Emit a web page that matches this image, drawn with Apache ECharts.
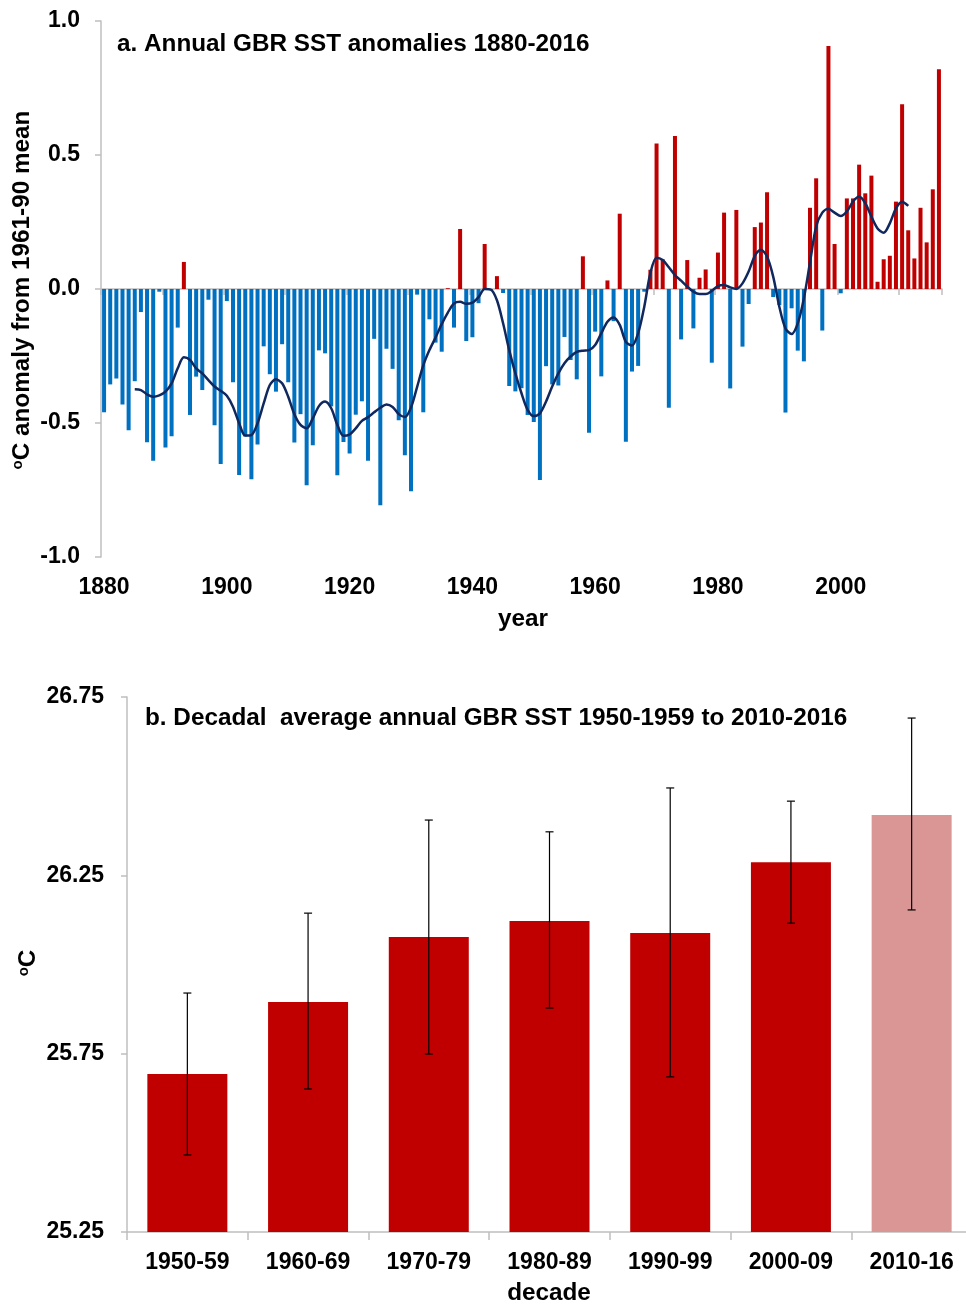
<!DOCTYPE html>
<html><head><meta charset="utf-8">
<script src="https://cdn.jsdelivr.net/npm/echarts@6/dist/echarts.min.js"></script>
<style>html,body{margin:0;padding:0;background:#fff}#c{width:966px;height:1307px}</style>
</head><body><div id="c"></div>
<script>
// ---------- Panel a: annual anomalies ----------
const years = [
'1880','1881','1882','1883','1884','1885','1886','1887','1888','1889',
'1890','1891','1892','1893','1894','1895','1896','1897','1898','1899',
'1900','1901','1902','1903','1904','1905','1906','1907','1908','1909',
'1910','1911','1912','1913','1914','1915','1916','1917','1918','1919',
'1920','1921','1922','1923','1924','1925','1926','1927','1928','1929',
'1930','1931','1932','1933','1934','1935','1936','1937','1938','1939',
'1940','1941','1942','1943','1944','1945','1946','1947','1948','1949',
'1950','1951','1952','1953','1954','1955','1956','1957','1958','1959',
'1960','1961','1962','1963','1964','1965','1966','1967','1968','1969',
'1970','1971','1972','1973','1974','1975','1976','1977','1978','1979',
'1980','1981','1982','1983','1984','1985','1986','1987','1988','1989',
'1990','1991','1992','1993','1994','1995','1996','1997','1998','1999',
'2000','2001','2002','2003','2004','2005','2006','2007','2008','2009',
'2010','2011','2012','2013','2014','2015','2016'];

const anomalies = [
-0.46,-0.356,-0.334,-0.431,-0.527,-0.344,-0.086,-0.572,-0.641,-0.01,
-0.591,-0.549,-0.144,0.101,-0.47,-0.327,-0.377,-0.04,-0.508,-0.653,
-0.045,-0.348,-0.694,-0.55,-0.71,-0.58,-0.214,-0.318,-0.383,-0.206,
-0.348,-0.573,-0.467,-0.732,-0.583,-0.229,-0.24,-0.438,-0.695,-0.571,
-0.614,-0.469,-0.419,-0.641,-0.186,-0.807,-0.223,-0.298,-0.49,-0.62,
-0.755,-0.021,-0.46,-0.113,-0.2,-0.234,0.003,-0.144,0.224,-0.194,
-0.18,-0.053,0.168,-0.005,0.048,-0.015,-0.362,-0.382,-0.37,-0.47,
-0.496,-0.713,-0.288,-0.356,-0.36,-0.179,-0.265,-0.337,0.122,-0.536,
-0.159,-0.326,0.032,-0.12,0.281,-0.57,-0.308,-0.287,-0.01,0.072,
0.543,0.111,-0.443,0.571,-0.188,0.108,-0.147,0.042,0.073,-0.275,
0.136,0.285,-0.371,0.295,-0.215,-0.056,0.231,0.248,0.361,-0.03,
-0.06,-0.461,-0.072,-0.23,-0.27,0.303,0.413,-0.155,0.907,0.168,
-0.016,0.338,0.338,0.464,0.357,0.423,0.027,0.111,0.124,0.326,
0.689,0.219,0.114,0.303,0.174,0.372,0.82];

// smoothed curve for 1885..2011
const smoothYears = [
'1885','1886','1887','1888','1889','1890','1891','1892','1893','1894',
'1895','1896','1897','1898','1899','1900','1901','1902','1903','1904',
'1905','1906','1907','1908','1909','1910','1911','1912','1913','1914',
'1915','1916','1917','1918','1919','1920','1921','1922','1923','1924',
'1925','1926','1927','1928','1929','1930','1931','1932','1933','1934',
'1935','1936','1937','1938','1939','1940','1941','1942','1943','1944',
'1945','1946','1947','1948','1949','1950','1951','1952','1953','1954',
'1955','1956','1957','1958','1959','1960','1961','1962','1963','1964',
'1965','1966','1967','1968','1969','1970','1971','1972','1973','1974',
'1975','1976','1977','1978','1979','1980','1981','1982','1983','1984',
'1985','1986','1987','1988','1989','1990','1991','1992','1993','1994',
'1995','1996','1997','1998','1999','2000','2001','2002','2003','2004',
'2005','2006','2007','2008','2009','2010','2011'];
const smoothValues = [
-0.374,-0.377,-0.393,-0.402,-0.397,-0.383,-0.352,-0.296,-0.255,-0.265,
-0.296,-0.315,-0.34,-0.364,-0.38,-0.398,-0.439,-0.501,-0.547,-0.545,
-0.501,-0.427,-0.358,-0.337,-0.352,-0.402,-0.467,-0.507,-0.52,-0.483,
-0.437,-0.42,-0.445,-0.507,-0.548,-0.543,-0.52,-0.492,-0.478,-0.46,
-0.443,-0.431,-0.44,-0.467,-0.478,-0.442,-0.365,-0.285,-0.228,-0.181,
-0.131,-0.088,-0.054,-0.048,-0.055,-0.051,-0.03,0.0,-0.002,-0.042,
-0.128,-0.228,-0.315,-0.389,-0.451,-0.474,-0.464,-0.42,-0.364,-0.315,
-0.277,-0.252,-0.235,-0.23,-0.228,-0.209,-0.165,-0.122,-0.106,-0.134,
-0.197,-0.211,-0.165,-0.066,0.06,0.117,0.108,0.081,0.052,0.031,
0.009,-0.01,-0.019,-0.019,-0.007,0.011,0.015,0.006,0.0,0.021,
0.065,0.123,0.146,0.121,0.046,-0.066,-0.147,-0.168,-0.128,-0.035,
0.1,0.233,0.285,0.299,0.285,0.272,0.289,0.326,0.345,0.32,
0.27,0.226,0.21,0.245,0.301,0.326,0.31];

// ---------- Panel b: decadal averages ----------
const decades = ['1950-59','1960-69','1970-79','1980-89','1990-99','2000-09','2010-16'];
const decadeMeans = [25.693, 25.895, 26.077, 26.122, 26.088, 26.287, 26.419];
const errLow  = [25.466, 25.651, 25.749, 25.878, 25.685, 26.116, 26.153];
const errHigh = [25.920, 26.144, 26.405, 26.372, 26.495, 26.458, 26.691];

const FONT = '"Liberation Sans", Arial, Helvetica, sans-serif';
const AXIS_GRAY = '#BFBFBF';
const POS = '#C00000', NEG = '#0070C0', LINE = '#10285E';
const TITLE_FONT = 'bold 24.3px ' + FONT;

const chart = echarts.init(document.getElementById('c'), null, {renderer:'canvas'});

const lbl = {fontFamily: FONT, fontWeight: 'bold', fontSize: 23, color: '#000'};

const option = {
  backgroundColor: '#fff',
  animation: false,
  grid: [
    {left: 101, top: 21, width: 841, height: 536, outerBoundsMode: 'none', containLabel: false},
    {left: 127, top: 697, width: 845, height: 535, outerBoundsMode: 'none', containLabel: false}
  ],
  xAxis: [
    {type: 'category', gridIndex: 0, data: years, boundaryGap: true,
     axisLine: {show: false, onZero: false}, axisTick: {show: false},
     axisLabel: Object.assign({interval: 19, margin: 19}, lbl)},
    {type: 'category', gridIndex: 0, data: years, boundaryGap: true, position: 'bottom',
     axisLine: {show: true, onZero: true, onZeroAxisIndex: 0, lineStyle: {color: AXIS_GRAY, width: 1.5}},
     axisTick: {show: true, interval: 9, length: 6, lineStyle: {color: AXIS_GRAY, width: 1.5}},
     axisLabel: {show: false}},
    {type: 'category', gridIndex: 1, data: decades, boundaryGap: true,
     axisLine: {show: true, onZero: false, lineStyle: {color: AXIS_GRAY, width: 1.5}},
     axisTick: {show: true, length: 8, lineStyle: {color: AXIS_GRAY, width: 1.5}},
     axisLabel: Object.assign({margin: 19}, lbl)}
  ],
  yAxis: [
    {type: 'value', gridIndex: 0, min: -1, max: 1, interval: 0.5,
     axisLine: {show: true, onZero: false, lineStyle: {color: AXIS_GRAY, width: 1.5}},
     axisTick: {show: true, length: 6, lineStyle: {color: AXIS_GRAY, width: 1.5}},
     splitLine: {show: false},
     axisLabel: Object.assign({margin: 21, formatter: v => v.toFixed(1)}, lbl)},
    {type: 'value', gridIndex: 1, min: 25.25, max: 26.75, interval: 0.5,
     axisLine: {show: true, onZero: false, lineStyle: {color: AXIS_GRAY, width: 1.5}},
     axisTick: {show: true, length: 6, lineStyle: {color: AXIS_GRAY, width: 1.5}},
     splitLine: {show: false},
     axisLabel: Object.assign({margin: 23, formatter: v => v.toFixed(2)}, lbl)}
  ],
  series: [
    {type: 'bar', xAxisIndex: 0, yAxisIndex: 0, data: anomalies, barWidth: 4,
     itemStyle: {color: p => (p.value >= 0 ? POS : NEG)}},
    {type: 'line', xAxisIndex: 0, yAxisIndex: 0,
     data: smoothYears.map((y, i) => [y, smoothValues[i]]),
     smooth: 0.3, showSymbol: false, symbol: 'none',
     lineStyle: {color: LINE, width: 2.5}, z: 5},
    {type: 'bar', xAxisIndex: 2, yAxisIndex: 1, barWidth: 80,
     data: decadeMeans.map((v, i) => ({value: v, itemStyle: {color: i === decadeMeans.length - 1 ? '#D99694' : POS}}))},
    {type: 'custom', xAxisIndex: 2, yAxisIndex: 1, z: 6,
     data: decades.map((d, i) => [i, errLow[i], errHigh[i]]),
     renderItem: function (params, api) {
       const lo = api.coord([api.value(0), api.value(1)]);
       const hi = api.coord([api.value(0), api.value(2)]);
       const cap = 4;
       const st = {stroke: '#000', lineWidth: 1.2};
       return {type: 'group', children: [
         {type: 'line', shape: {x1: lo[0], y1: lo[1], x2: hi[0], y2: hi[1]}, style: st},
         {type: 'line', shape: {x1: hi[0] - cap, y1: hi[1], x2: hi[0] + cap, y2: hi[1]}, style: st},
         {type: 'line', shape: {x1: lo[0] - cap, y1: lo[1], x2: lo[0] + cap, y2: lo[1]}, style: st}
       ]};
     }}
  ],
  graphic: [
    {type: 'text', x: 117, y: 44, style: {text: 'a. Annual GBR SST anomalies 1880-2016',
      font: TITLE_FONT, fill: '#000', verticalAlign: 'middle', align: 'left'}},
    {type: 'text', x: 22, y: 290, rotation: Math.PI / 2, style: {
      text: '{s|o}C anomaly from 1961-90 mean', font: TITLE_FONT, fill: '#000',
      align: 'center', verticalAlign: 'middle',
      rich: {s: {font: 'bold 15px ' + FONT, verticalAlign: 'top', fill: '#000'}}}},
    {type: 'text', x: 523, y: 619, style: {text: 'year', font: TITLE_FONT, fill: '#000',
      align: 'center', verticalAlign: 'middle'}},
    {type: 'text', x: 145, y: 718, style: {text: 'b. Decadal  average annual GBR SST 1950-1959 to 2010-2016',
      font: TITLE_FONT, fill: '#000', verticalAlign: 'middle', align: 'left'}},
    {type: 'text', x: 28, y: 963, rotation: Math.PI / 2, style: {
      text: '{s|o}C', font: TITLE_FONT, fill: '#000', align: 'center', verticalAlign: 'middle',
      rich: {s: {font: 'bold 15px ' + FONT, verticalAlign: 'top', fill: '#000'}}}},
    {type: 'text', x: 549, y: 1293, style: {text: 'decade', font: TITLE_FONT, fill: '#000',
      align: 'center', verticalAlign: 'middle'}}
  ]
};
chart.setOption(option);
</script>
</body></html>
